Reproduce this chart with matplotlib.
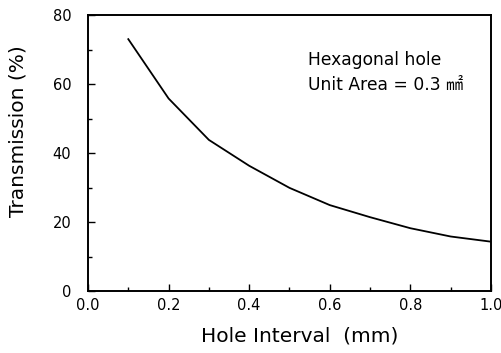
import matplotlib
matplotlib.use("Agg")
import matplotlib.pyplot as plt
from matplotlib.ticker import MultipleLocator

plt.rcParams['font.family'] = ['DejaVu Sans', 'Noto Sans CJK JP']

hole_interval = [0.1, 0.2, 0.3, 0.4, 0.5, 0.6, 0.7, 0.8, 0.9, 1.0]
transmission = [73.0, 55.8, 43.8, 36.3, 29.9, 24.9, 21.4, 18.2, 15.8, 14.3]

fig = plt.figure(figsize=(5.02, 3.53), dpi=100)
ax = fig.add_axes([0.1753, 0.1756, 0.8027, 0.7819])
ax.plot(hole_interval, transmission, color='black', lw=1.3)

ax.set_xlim(0, 1.0)
ax.set_ylim(0, 80)
ax.xaxis.set_minor_locator(MultipleLocator(0.1))
ax.yaxis.set_major_locator(MultipleLocator(20))
ax.yaxis.set_minor_locator(MultipleLocator(10))
ax.set_xticks([0.0, 0.2, 0.4, 0.6, 0.8, 1.0])
ax.set_xticklabels(["0.0", "0.2", "0.4", "0.6", "0.8", "1.0"])
ax.tick_params(which='both', direction='in', top=False, right=False, labelsize=10.5, width=1.0)
ax.tick_params(axis='y', which='major', length=5, pad=12)
ax.tick_params(axis='x', which='major', length=5, pad=5)
ax.tick_params(which='minor', length=3)
for s in ax.spines.values():
    s.set_linewidth(1.4)

ax.set_xlabel("Hole Interval  (mm)", fontsize=14.5)
ax.set_ylabel("Transmission (%)", fontsize=14.5)
ax.xaxis.set_label_coords(0.526, -0.13)
ax.yaxis.set_label_coords(-0.15, 0.58)

ax.text(0.545, 0.837, "Hexagonal hole", transform=ax.transAxes, fontsize=12.3, va='center')
ax.text(0.545, 0.746, "Unit Area = 0.3 ㎟", transform=ax.transAxes, fontsize=12.3, va='center')

fig.savefig("out.png", dpi=100)
